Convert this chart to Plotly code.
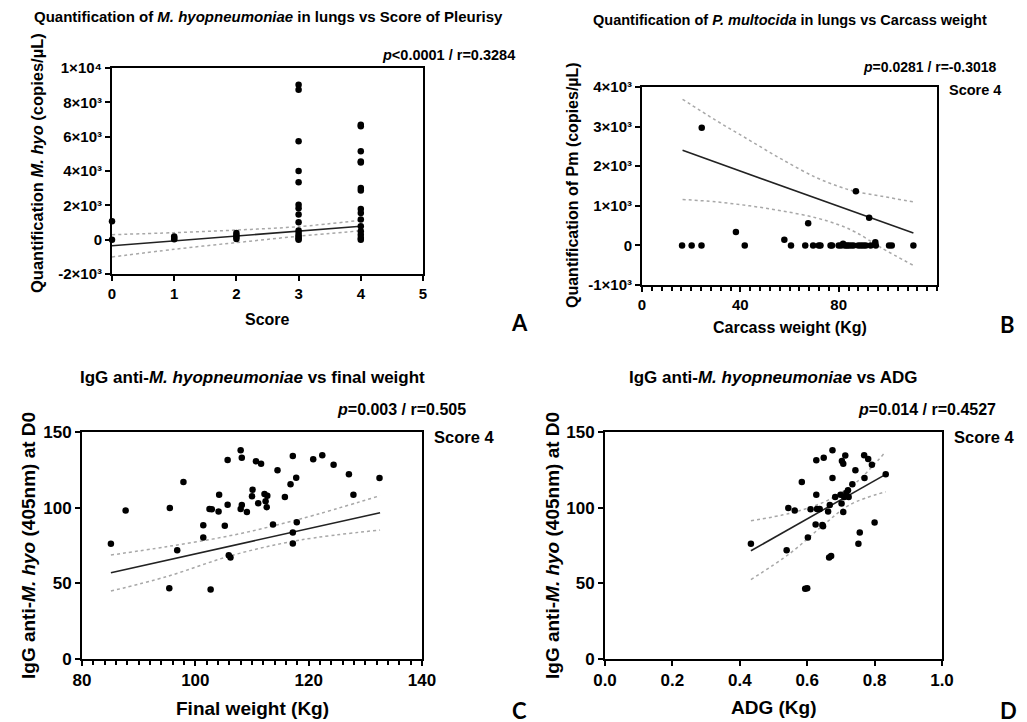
import plotly.graph_objects as go

# ---------------- Panel A data ----------------
a_score = [0, 0,
           1, 1, 1,
           2, 2, 2, 2,
           3, 3, 3, 3, 3, 3, 3, 3, 3, 3, 3, 3, 3, 3, 3,
           4, 4, 4, 4, 4, 4, 4, 4, 4, 4, 4, 4, 4, 4, 4]
a_copies = [1070, 0,
            190, 90, 30,
            390, 260, 150, 40,
            9030, 8740, 5730, 4000, 3340, 2040, 1830, 1460, 1010, 540, 390, 250, 150, 60, 0,
            6700, 6600, 5150, 4560, 4500, 3010, 2870, 1790, 1550, 1170, 780, 490, 290, 100, 0]
a_fit_x = [0, 4]
a_fit_y = [-350, 780]
a_ci_x = [0, 1, 2, 3, 4]
a_ci_up = [290, 410, 560, 760, 1130]
a_ci_lo = [-1010, -560, -170, 200, 520]
a_yticks = [-2000, 0, 2000, 4000, 6000, 8000, 10000]
a_yticktext = ["-2×10³", "0", "2×10³", "4×10³", "6×10³", "8×10³", "1×10⁴"]

# ---------------- Panel B data ----------------
b_weight = [16.3, 20.2, 24.2, 24.3, 38.2, 41.8, 57.9, 60.6, 66.4, 67.6, 69.6, 71.9, 72.6,
            76.7, 77.3, 80.0, 81.0, 81.8, 82.5, 83.3, 84.0, 85.0, 86.0, 87.0, 88.0, 89.0,
            90.0, 91.0, 92.4, 93.0, 94.9, 95.1, 100.5, 101.6, 110.4]
b_pm = [0, 0, 0, 2970, 340, 0, 140, 0, 0, 560, 0, 0, 0,
        0, 0, 0, 0, 40, 0, 0, 0, 0, 0, 1370, 0, 0,
        0, 0, 700, 0, 80, 0, 0, 0, 0]
b_fit_x = [16.5, 110.4]
b_fit_y = [2400, 310]
b_ci_x = [16.5, 30, 43.6, 57, 70.6, 80, 87, 97.6, 110.4]
b_ci_up = [3690, 3160, 2660, 2170, 1720, 1490, 1360, 1240, 1100]
b_ci_lo = [1160, 1100, 1000, 870, 700, 520, 330, -70, -505]
b_yticks = [-1000, 0, 1000, 2000, 3000, 4000]
b_yticktext = ["-1×10³", "0", "1×10³", "2×10³", "3×10³", "4×10³"]

# ---------------- Panel C data ----------------
c_weight = [85.1, 87.7, 95.4, 95.5, 96.8, 97.9, 101.4, 101.4, 102.5, 102.9, 102.7, 104.1,
            104.2, 105.2, 105.7, 105.7, 105.9, 106.2, 108.0, 108.2, 108.2, 108.0, 109.1,
            110.1, 110.0, 110.7, 111.1, 111.6, 112.2, 112.4, 112.6, 112.7, 113.7, 114.5,
            115.8, 116.8, 117.2, 117.2, 117.2, 117.8, 117.9, 120.8, 122.4, 124.4, 127.1,
            127.9, 132.5]
c_igg = [76.1, 98.1, 46.8, 99.8, 71.9, 117.0, 88.4, 80.3, 99.2, 99.0, 46.0, 97.4,
         108.6, 88.0, 131.5, 102.0, 68.6, 67.1, 137.9, 133.0, 101.8, 99.2, 97.2,
         111.9, 107.5, 130.6, 102.9, 129.1, 109.1, 104.3, 100.3, 107.8, 88.8, 124.7,
         107.1, 115.5, 134.2, 83.6, 76.3, 119.7, 90.4, 132.0, 134.6, 128.4, 122.1,
         108.6, 119.6]
c_fit_x = [85.1, 132.6]
c_fit_y = [57.0, 96.7]
c_ci_x = [85.1, 94.9, 106.7, 118.5, 132.6]
c_ci_up = [68.7, 74.2, 81.9, 92.5, 107.9]
c_ci_lo = [44.9, 54.4, 68.7, 78.6, 85.2]

# ---------------- Panel D data ----------------
d_adg = [0.433, 0.539, 0.544, 0.563, 0.584, 0.594, 0.600, 0.602, 0.610, 0.625, 0.627,
         0.627, 0.629, 0.637, 0.645, 0.647, 0.649, 0.662, 0.665, 0.671, 0.667, 0.675,
         0.675, 0.683, 0.699, 0.703, 0.707, 0.702, 0.707, 0.710, 0.713, 0.716, 0.721,
         0.723, 0.734, 0.743, 0.752, 0.756, 0.769, 0.770, 0.781, 0.792, 0.800, 0.833]
d_igg = [76.1, 71.9, 99.8, 98.1, 117.0, 46.4, 46.8, 80.3, 99.0, 88.8, 131.3,
         108.6, 99.2, 99.2, 88.6, 87.7, 133.0, 97.4, 67.1, 68.0, 101.8, 137.9,
         119.6, 107.1, 108.6, 130.8, 129.1, 102.7, 97.2, 107.1, 134.4, 109.7, 111.5,
         107.1, 115.5, 124.7, 76.1, 83.6, 134.6, 119.6, 132.2, 128.4, 90.2, 122.1]
d_fit_x = [0.433, 0.833]
d_fit_y = [71.5, 122.0]
d_ci_up_x = [0.433, 0.549, 0.648, 0.697, 0.747, 0.833]
d_ci_up = [91.4, 96.3, 103.5, 109.5, 117.0, 137.0]
d_ci_lo_x = [0.433, 0.549, 0.648, 0.727, 0.833]
d_ci_lo = [52.5, 69.8, 88.5, 102.0, 110.5]

W, H = 1027, 722
OFF = 8  # page body margin of the generated html
FONT = "Liberation Sans, Arial, sans-serif"

def px(x):
    return (x - OFF) / W

def py(y):
    return 1 - (y - OFF) / H

fig = go.Figure()

panels = [
    dict(n="", xs=a_score, ys=a_copies, fx=a_fit_x, fy=a_fit_y,
         ci=[(a_ci_x, a_ci_up), (a_ci_x, a_ci_lo)]),
    dict(n="2", xs=b_weight, ys=b_pm, fx=b_fit_x, fy=b_fit_y,
         ci=[(b_ci_x, b_ci_up), (b_ci_x, b_ci_lo)]),
    dict(n="3", xs=c_weight, ys=c_igg, fx=c_fit_x, fy=c_fit_y,
         ci=[(c_ci_x, c_ci_up), (c_ci_x, c_ci_lo)]),
    dict(n="4", xs=d_adg, ys=d_igg, fx=d_fit_x, fy=d_fit_y,
         ci=[(d_ci_up_x, d_ci_up), (d_ci_lo_x, d_ci_lo)]),
]

for p in panels:
    xa = "x" + p["n"]
    ya = "y" + p["n"]
    for cx, cy in p["ci"]:
        fig.add_trace(go.Scatter(x=cx, y=cy, mode="lines", xaxis=xa, yaxis=ya,
                                 line=dict(color="#a8a8a8", width=1.5, dash="dot", shape="spline"),
                                 showlegend=False, hoverinfo="skip"))
    fig.add_trace(go.Scatter(x=p["fx"], y=p["fy"], mode="lines", xaxis=xa, yaxis=ya,
                             line=dict(color="#222222", width=1.6), showlegend=False))
    fig.add_trace(go.Scatter(x=p["xs"], y=p["ys"], mode="markers", xaxis=xa, yaxis=ya,
                             marker=dict(color="black", size=6.5), cliponaxis=False,
                             showlegend=False))

def f(size):
    return dict(family=FONT, size=size, color="black", weight="bold")

axis_common = dict(showline=True, linewidth=2, linecolor="black", mirror=True,
                   ticks="outside", ticklen=5, tickwidth=2, tickcolor="black",
                   showgrid=False, zeroline=False, automargin=False)

fig.update_layout(
    template="none",
    width=W, height=H, margin=dict(l=0, r=0, t=0, b=0, pad=0),
    paper_bgcolor="white", plot_bgcolor="white",
    font=dict(family=FONT, color="black"),
    # Panel A
    xaxis=dict(domain=[px(112), px(423)], anchor="y", range=[0, 5], tickvals=[0, 1, 2, 3, 4, 5],
               tickfont=f(15), **axis_common),
    yaxis=dict(domain=[py(274), py(68)], anchor="x", range=[-2000, 10000],
               tickvals=a_yticks, ticktext=a_yticktext, tickfont=f(15), **axis_common),
    # Panel B
    xaxis2=dict(domain=[px(642), px(937)], anchor="y2", range=[0, 120], tickvals=[0, 40, 80],
                minor=dict(dtick=4, ticks="outside", ticklen=4, tickwidth=2, tickcolor="black"),
                tickfont=f(15), **axis_common),
    yaxis2=dict(domain=[py(285), py(87)], anchor="x2", range=[-1000, 4000],
                tickvals=b_yticks, ticktext=b_yticktext, tickfont=f(15), **axis_common),
    # Panel C
    xaxis3=dict(domain=[px(82), px(422)], anchor="y3", range=[80, 140], tickvals=[80, 100, 120, 140],
                minor=dict(dtick=2, ticks="outside", ticklen=4, tickwidth=2, tickcolor="black"),
                tickfont=f(17), **axis_common),
    yaxis3=dict(domain=[py(659), py(432)], anchor="x3", range=[0, 150], tickvals=[0, 50, 100, 150],
                tickfont=f(17), **axis_common),
    # Panel D
    xaxis4=dict(domain=[px(605), px(942)], anchor="y4", range=[0, 1.0],
                tickvals=[0, 0.2, 0.4, 0.6, 0.8, 1.0], ticktext=["0.0", "0.2", "0.4", "0.6", "0.8", "1.0"],
                tickfont=f(17), **axis_common),
    yaxis4=dict(domain=[py(659), py(432)], anchor="x4", range=[0, 150], tickvals=[0, 50, 100, 150],
                tickfont=f(17), **axis_common),
)

def ann(text, x, y, xanchor="center", size=13, family=FONT, angle=0):
    fig.add_annotation(text=text, x=px(x), y=py(y), xref="paper", yref="paper",
                       xanchor=xanchor, yanchor="middle", showarrow=False, textangle=angle,
                       font=dict(family=family, size=size, color="black", weight="bold"))

# chart titles
ann("Quantification of <i>M. hyopneumoniae</i> in lungs vs Score of Pleurisy", 268, 17, size=15)
ann("Quantification of <i>P. multocida</i> in lungs vs Carcass weight", 790, 20, size=14.5)
ann("IgG anti-<i>M. hyopneumoniae</i> vs final weight", 252, 377, size=17)
ann("IgG anti-<i>M. hyopneumoniae</i> vs ADG", 773, 377, size=17)

# axis titles
ann("Score", 267, 319, size=16)
ann("Quantification <i>M. hyo</i> (copies/µL)", 37, 163, size=16.5, angle=-90)
ann("Carcass weight (Kg)", 790, 327, size=16)
ann("Quantification of Pm (copies/µL)", 572, 185, size=16, angle=-90)
ann("Final weight (Kg)", 252, 708, size=19)
ann("IgG anti-<i>M. hyo</i> (405nm) at D0", 28, 546, size=19, angle=-90)
ann("ADG (Kg)", 773, 707, size=19)
ann("IgG anti-<i>M. hyo</i> (405nm) at D0", 552, 546, size=19, angle=-90)

# statistics
ann("<i>p</i><0.0001 / r=0.3284", 517, 55, xanchor="right", size=14.5)
ann("<i>p</i>=0.0281 / r=-0.3018", 999, 67, xanchor="right", size=14)
ann("<i>p</i>=0.003 / r=0.505", 468, 409, xanchor="right", size=16)
ann("<i>p</i>=0.014 / r=0.4527", 998, 409, xanchor="right", size=16)

# score labels
ann("Score 4", 947, 90, xanchor="left", size=14.5)
ann("Score 4", 432, 437, xanchor="left", size=16.5)
ann("Score 4", 952, 437, xanchor="left", size=16.5)

# panel letters
LET = "Lato, Open Sans, sans-serif"
ann("A", 519, 322, size=22, family=LET)
ann("B", 1007, 324, size=22, family=LET)
ann("C", 519, 710, size=22, family=LET)
ann("D", 1008, 710, size=22, family=LET)

fig.write_html("out.html")
